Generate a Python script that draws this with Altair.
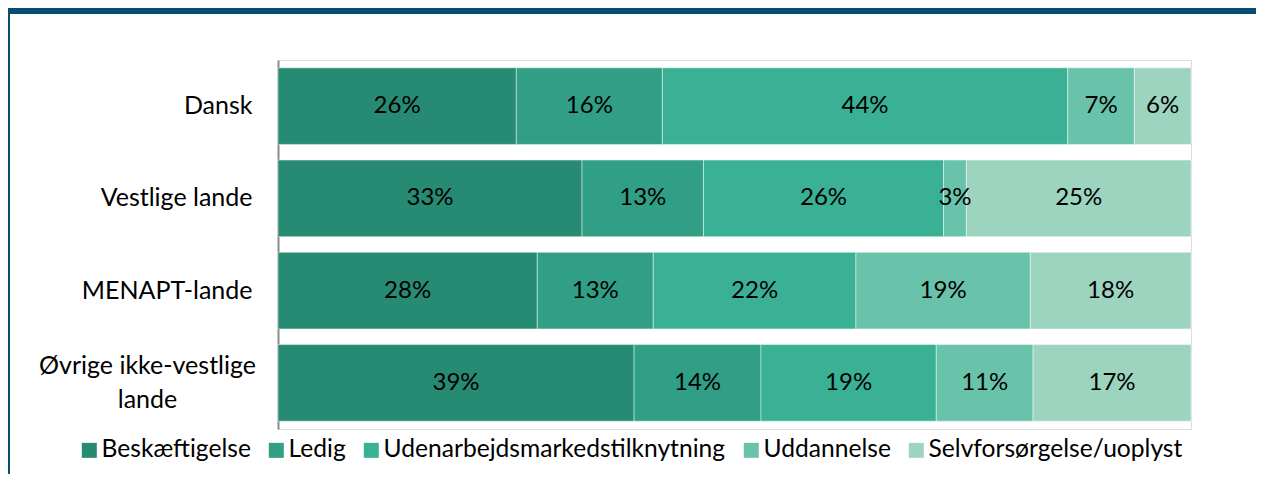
import altair as alt
import pandas as pd

categories = ["Dansk", "Vestlige lande", "MENAPT-lande", "Øvrige ikke-vestlige lande"]
series = ["Beskæftigelse", "Ledig", "Udenarbejdsmarkedstilknytning", "Uddannelse", "Selvforsørgelse/uoplyst"]
colors = ["#278A72", "#309F85", "#3AB194", "#69C3AA", "#9DD4C0"]

beskaeftigelse = [26.1, 33.3, 28.4, 39.0]
ledig = [16.0, 13.3, 12.7, 13.9]
udenarbejds = [44.4, 26.3, 22.2, 19.2]
uddannelse = [7.3, 2.5, 19.1, 10.6]
selvforsorgelse = [6.2, 24.6, 17.6, 17.3]

values = [beskaeftigelse, ledig, udenarbejds, uddannelse, selvforsorgelse]
rows = []
for si, (s, vals) in enumerate(zip(series, values)):
    for c, v in zip(categories, vals):
        rows.append({"category": c, "series": s, "order": si, "value": v})
df = pd.DataFrame(rows)

FONT = "Lato"
LONG = "Øvrige ikke-vestlige lande"
test = f"datum.value == '{LONG}'"

base = alt.Chart(df).transform_stack(
    stack="value", groupby=["category"], as_=["x0", "x1"],
    sort=[alt.SortField("order", order="ascending")], offset="normalize"
).transform_calculate(
    mid="(datum.x0 + datum.x1) / 2",
    label="format(datum.value, '.0f') + '%'"
)

yenc = alt.Y("category:N", sort=categories, title=None,
             scale=alt.Scale(paddingInner=0.17, paddingOuter=0.085),
             axis=alt.Axis(labelFontSize=25, labelFont=FONT, labelColor="#000000",
                           labelPadding={"condition": {"test": test, "value": 131}, "value": 26},
                           labelAlign={"condition": {"test": test, "value": "center"}, "value": "right"},
                           labelOffset={"condition": {"test": test, "value": -17}, "value": 0},
                           ticks=False, domainColor="#8c8c8c", domainWidth=2,
                           labelLimit=400, minExtent=270, maxExtent=270, labelLineHeight=34,
                           labelExpr=f"datum.value == '{LONG}' ? ['Øvrige ikke-vestlige', 'lande'] : datum.label"))

bars = base.mark_bar(stroke="#ffffff", strokeOpacity=0.45, strokeWidth=1).encode(
    x=alt.X("x0:Q", scale=alt.Scale(domain=[0, 1]), axis=None),
    x2="x1:Q",
    y=yenc,
    color=alt.Color("series:N", sort=series,
                    scale=alt.Scale(domain=series, range=colors),
                    legend=alt.Legend(title=None, orient="none", direction="horizontal",
                                      columns=5, legendX=-201, legendY=378, padding=0,
                                      symbolType="square", symbolSize=225, symbolStrokeWidth=0,
                                      symbolOpacity=1,
                                      labelFont=FONT, labelFontSize=24.6, labelColor="#000000",
                                      labelOffset=0, columnPadding=13, labelLimit=600)),
    order=alt.Order("order:Q"),
)

text = base.mark_text(font=FONT, fontSize=24, color="#000000").encode(
    x=alt.X("mid:Q", scale=alt.Scale(domain=[0, 1])),
    y=alt.Y("category:N", sort=categories),
    text="label:N",
)

frame_top = alt.Chart(pd.DataFrame({"a": [0]})).mark_rect(color="#05506E").encode(
    x=alt.value(-270), x2=alt.value(978), y=alt.value(-52), y2=alt.value(-46)
)
frame_left = alt.Chart(pd.DataFrame({"a": [0]})).mark_rect(color="#05506E").encode(
    x=alt.value(-270), x2=alt.value(-268), y=alt.value(-52), y2=alt.value(414)
)

chart = alt.layer(frame_top, frame_left, bars, text).properties(
    width=913, height=369, padding=0
).configure_view(stroke=None).configure(background="#ffffff")

chart.save("out.html", embed_options={"renderer": "svg", "actions": False})
